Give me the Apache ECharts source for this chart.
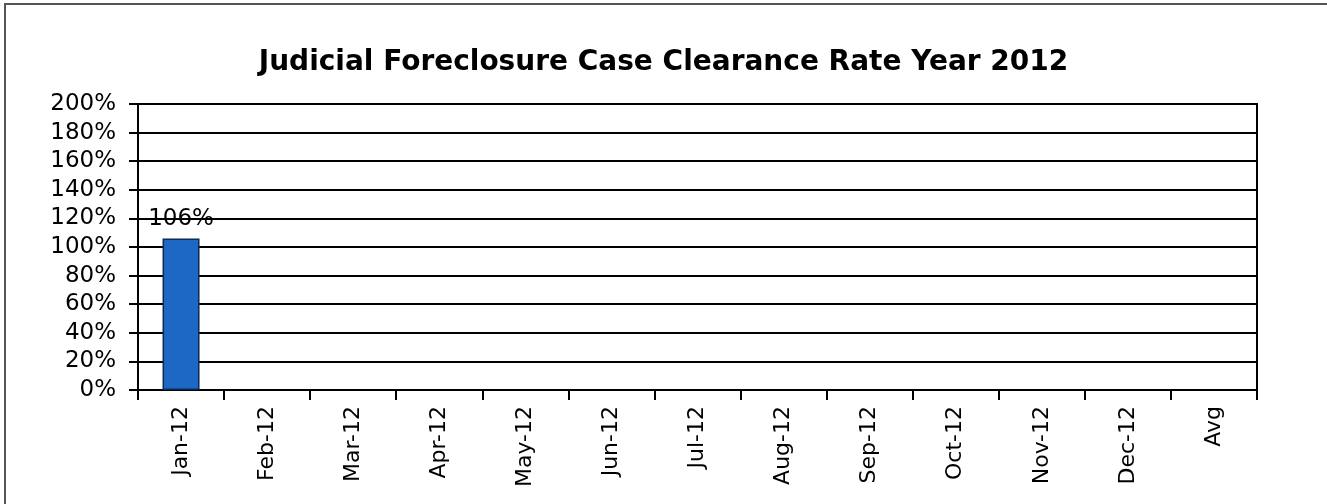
<!DOCTYPE html>
<html>
<head>
<meta charset="utf-8">
<script src="https://cdn.jsdelivr.net/npm/echarts@6/dist/echarts.min.js"></script>
<style>
  html, body { margin: 0; padding: 0; background: #fff; }
  #chart { width: 1327px; height: 504px; }
</style>
</head>
<body>
<div id="chart"></div>
<script>
var months = ['Jan-12', 'Feb-12', 'Mar-12', 'Apr-12', 'May-12', 'Jun-12', 'Jul-12', 'Aug-12', 'Sep-12', 'Oct-12', 'Nov-12', 'Dec-12', 'Avg'];
var clearanceRate = [106, null, null, null, null, null, null, null, null, null, null, null, null];
var titleText = 'Judicial Foreclosure Case Clearance Rate Year 2012';

var dom = document.getElementById('chart');
var myChart = echarts.init(dom, null, { renderer: 'canvas' });

var font = 'DejaVu Sans';

var option = {
  backgroundColor: '#fff',
  animation: false,
  title: {
    text: titleText,
    left: 'center',
    top: 49,
    padding: 0,
    textStyle: { fontFamily: font, fontSize: 28, fontWeight: 'bold', color: '#000' }
  },
  graphic: [
    {
      type: 'rect',
      shape: { x: 5, y: 4, width: 1360, height: 560 },
      style: { fill: 'none', stroke: '#555', lineWidth: 2 },
      silent: true
    }
  ],
  grid: {
    left: 138,
    right: 70,
    top: 104,
    bottom: 114,
    show: true,
    borderColor: '#000',
    borderWidth: 2
  },
  xAxis: {
    type: 'category',
    data: months,
    boundaryGap: true,
    axisLine: { lineStyle: { color: '#000', width: 2 } },
    axisTick: { show: true, alignWithLabel: false, length: 10, lineStyle: { color: '#000', width: 2 } },
    axisLabel: {
      rotate: 90,
      interval: 0,
      margin: 16,
      color: '#000',
      fontFamily: font,
      fontSize: 22
    }
  },
  yAxis: {
    type: 'value',
    min: 0,
    max: 200,
    interval: 20,
    axisLine: { show: true, lineStyle: { color: '#000', width: 2 } },
    axisTick: { show: true, length: 9, lineStyle: { color: '#000', width: 2 } },
    splitLine: { show: true, lineStyle: { color: '#000', width: 2 } },
    axisLabel: {
      margin: 22,
      color: '#000',
      fontFamily: font,
      fontSize: 23,
      formatter: '{value}%'
    }
  },
  series: [
    {
      name: 'Clearance Rate',
      type: 'bar',
      data: clearanceRate,
      barWidth: 37,
      itemStyle: { color: '#1c68c4', borderColor: '#0b2a55', borderWidth: 1.5 },
      label: {
        show: true,
        position: 'top',
        distance: 8,
        color: '#000',
        fontFamily: font,
        fontSize: 23,
        formatter: '{c}%'
      }
    }
  ]
};

myChart.setOption(option);
window.addEventListener('resize', myChart.resize);
</script>
</body>
</html>
